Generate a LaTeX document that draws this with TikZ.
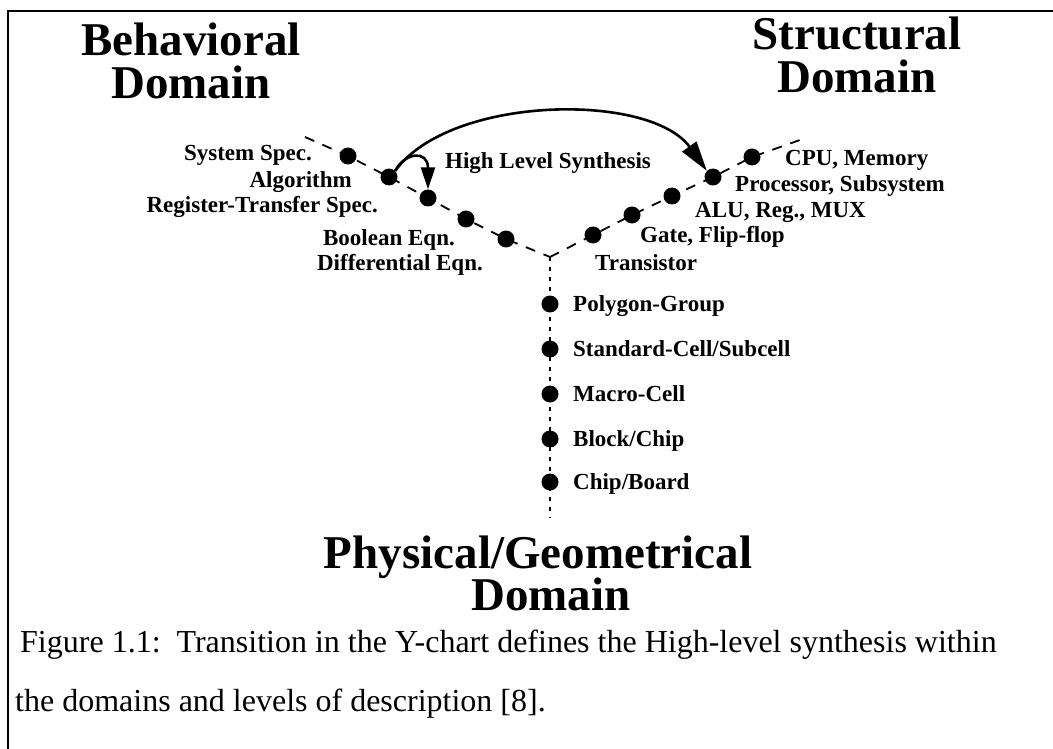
\documentclass[tikz,border=0pt]{standalone}
\usepackage{fontspec}
\setmainfont{Liberation Serif}
\usetikzlibrary{arrows.meta,backgrounds}
\begin{document}
\begin{tikzpicture}[x=1pt,y=-1pt,
  dot/.style={circle,fill=black,inner sep=0pt,minimum size=17pt},
  lbl/.style={font=\fontsize{23}{24}\selectfont\bfseries,inner sep=0pt},
  domtitle/.style={font=\fontsize{47}{40}\selectfont\bfseries,inner sep=0pt},
  captext/.style={font=\fontsize{32}{33}\selectfont,inner sep=0pt},
  axisline/.style={line width=1.8pt,dash pattern=on 10pt off 9pt},
  physline/.style={line width=1.8pt,dash pattern=on 4pt off 6pt},
  synth/.style={line width=2.6pt,-{Triangle[length=30pt,width=17pt]}},
]
\useasboundingbox (0,0) rectangle (1053,749);

% frame
\draw[line width=2.6pt] (8,749) -- (8,11) -- (1053,11);

% domain titles
\node[domtitle,anchor=base] (bt1) at (191,56) {Behavioral};
\node[domtitle,anchor=base] (bt2) at (191,99) {Domain};
\node[domtitle,anchor=base] (st1) at (857,50) {Structural};
\node[domtitle,anchor=base] (st2) at (857,93) {Domain};
\node[domtitle,anchor=base] (pt1) at (538,568) {Physical/Geometrical};
\node[domtitle,anchor=base] (pt2) at (551,610) {Domain};

% axis ends and centre of the Y
\coordinate (bend) at (305,137);
\coordinate (send) at (800,140);
\coordinate (yc) at (550,257);
\coordinate (pend) at (550,518);

% behavioural levels
\node[dot] (sys) at (348,156) {};
\node[dot] (alg) at (389,177) {};
\node[dot] (rtl) at (428,198) {};
\node[dot] (bool) at (466,219) {};
\node[dot] (diff) at (506,239) {};
% structural levels
\node[dot] (cpu) at (752,157) {};
\node[dot] (proc) at (713,177) {};
\node[dot] (alu) at (672,196) {};
\node[dot] (gate) at (632,215) {};
\node[dot] (trans) at (593,235) {};
% physical levels
\node[dot] (poly) at (550,304) {};
\node[dot] (cell) at (550,349) {};
\node[dot] (macro) at (550,394) {};
\node[dot] (block) at (550,439) {};
\node[dot] (board) at (550,482) {};

\begin{scope}[on background layer]
  \draw[axisline] (bend) -- (sys.center) -- (alg.center) -- (rtl.center)
    -- (bool.center) -- (diff.center) -- (yc);
  \draw[axisline] (yc) -- (trans.center) -- (gate.center) -- (alu.center)
    -- (proc.center) -- (cpu.center) -- (send);
  \draw[physline] (yc) -- (poly.center) -- (cell.center) -- (macro.center)
    -- (block.center) -- (board.center) -- (pend);
\end{scope}

% labels
\node[lbl,anchor=base east] (lsys) at (312,161) {System Spec.};
\node[lbl,anchor=base east] (lalg) at (352,188) {Algorithm};
\node[lbl,anchor=base east] (lrtl) at (378,213) {Register-Transfer Spec.};
\node[lbl,anchor=base east] (lbool) at (455,245) {Boolean Eqn.};
\node[lbl,anchor=base east] (ldiff) at (483,270) {Differential Eqn.};

\node[lbl,anchor=base west] (lcpu) at (785,166) {CPU, Memory};
\node[lbl,anchor=base west] (lproc) at (735,192) {Processor, Subsystem};
\node[lbl,anchor=base west] (lalu) at (695,218) {ALU, Reg., MUX};
\node[lbl,anchor=base west] (lgate) at (640,243) {Gate, Flip-flop};
\node[lbl,anchor=base west] (ltrans) at (595,270) {Transistor};

\node[lbl,anchor=base west] (lpoly) at (573,311) {Polygon-Group};
\node[lbl,anchor=base west] (lcell) at (573,356) {Standard-Cell/Subcell};
\node[lbl,anchor=base west] (lmacro) at (573,401) {Macro-Cell};
\node[lbl,anchor=base west] (lblock) at (573,446) {Block/Chip};
\node[lbl,anchor=base west] (lboard) at (573,489) {Chip/Board};

\node[lbl,anchor=base] (lhls) at (548,168) {High Level Synthesis};

% synthesis transitions
\draw[synth] (alg.north east) .. controls (450,95) and (650,92) .. (proc.north west);
\draw[line width=2.6pt,-{Triangle[length=22pt,width=14pt]}]
  (alg.north east) .. controls (405,152) and (428,150) .. (rtl.north);

% caption
\node[captext,anchor=base west] (cap1) at (20,652)
  {Figure 1.1:\ \ Transition in the Y-chart defines the High-level synthesis within};
\node[captext,anchor=base west] (cap2) at (15,711)
  {the domains and levels of description [8].};
\end{tikzpicture}
\end{document}
